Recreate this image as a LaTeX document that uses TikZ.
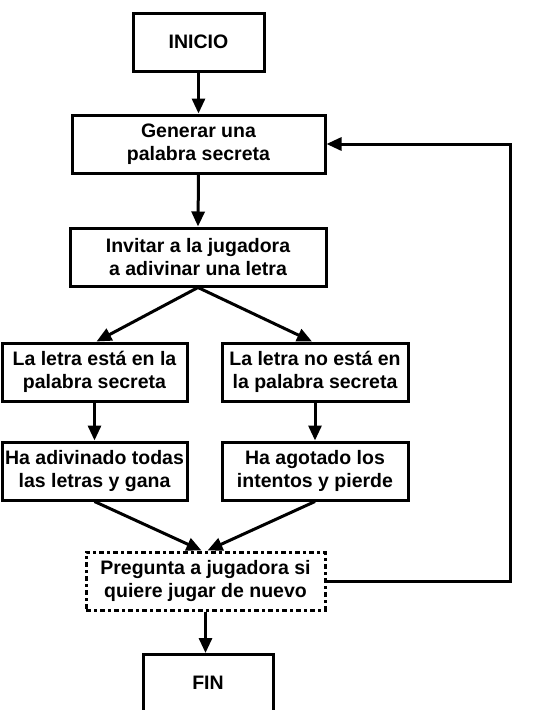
\documentclass[tikz,border=0pt]{standalone}
\usepackage{fontspec}
\setmainfont{Liberation Sans}
\usetikzlibrary{arrows.meta}
\begin{document}
\begin{tikzpicture}[x=1pt,y=-1pt,
  box/.style={draw,line width=3pt,align=center,inner sep=0pt,
    font=\fontsize{19.5}{23}\selectfont\bfseries},
  dotbox/.style={box,dash pattern=on 5pt off 3pt on 3pt off 3pt},
  arr/.style={line width=3pt,-{Triangle[length=15pt,width=13pt]}},
  ln/.style={line width=3pt}]
\useasboundingbox (0,0) rectangle (546,710);
\node[box,minimum width=131pt,minimum height=58pt] (inicio) at (198.5,42) {INICIO};
\node[box,minimum width=253pt,minimum height=58pt] (gen) at (198.5,144) {Generar una\\palabra secreta};
\node[box,minimum width=256pt,minimum height=58pt] (inv) at (198,257) {Invitar a la jugadora\\ a adivinar una letra};
\node[box,minimum width=185pt,minimum height=58pt] (esta) at (94.5,372) {La letra está en la\\palabra secreta};
\node[box,minimum width=186pt,minimum height=58pt] (noesta) at (315,372) {La letra no está en\\ la palabra secreta};
\node[box,minimum width=185pt,minimum height=58pt] (gana) at (94.5,471) {Ha adivinado todas\\las letras y gana};
\node[box,minimum width=186pt,minimum height=58pt] (pierde) at (315,471) {Ha agotado los\\intentos y pierde};
\node[dotbox,minimum width=239pt,minimum height=58pt] (preg) at (205.5,581) {Pregunta a jugadora si\\ quiere jugar de nuevo};
\node[box,minimum width=130pt,minimum height=80pt,anchor=north] (fin) at (208,653) {};
\node[font=\fontsize{19.5}{23}\selectfont\bfseries] (fintext) at (208,683) {FIN};
\coordinate (c1) at (510,581);
\coordinate (c2) at (510,144);
\draw[arr] (inicio.south) -- (gen.north);
\draw[arr] (gen.south) -- (inv.north);
\draw[arr] (inv.south) -- ([xshift=2pt]esta.north);
\draw[arr] (inv.south) -- ([xshift=-3pt]noesta.north);
\draw[arr] (esta.south) -- (gana.north);
\draw[arr] (noesta.south) -- (pierde.north);
\draw[arr] (gana.south) -- ([xshift=-4pt]preg.north);
\draw[arr] (pierde.south) -- ([xshift=2pt]preg.north);
\draw[arr] (preg.south) -- (preg.south |- fin.north);
\draw[arr] (preg.east) -- (c1) -- (c2) -- (gen.east);
\end{tikzpicture}
\end{document}
